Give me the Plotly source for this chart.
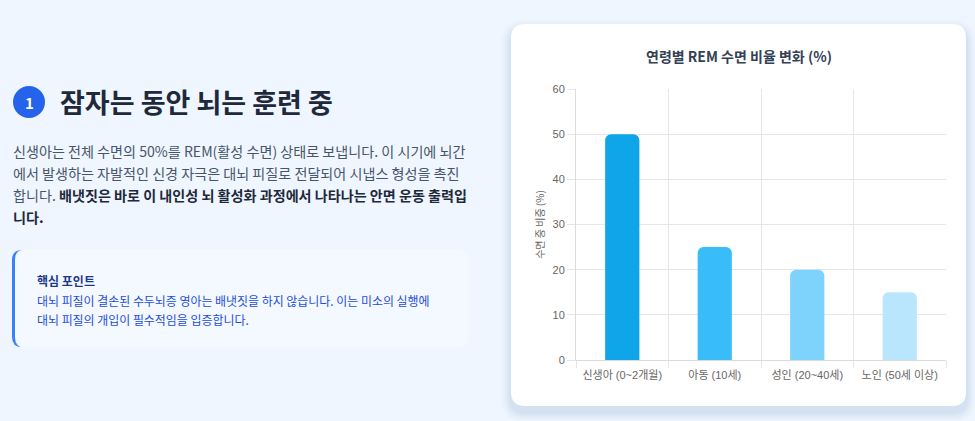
import plotly.graph_objects as go

# chart data
categories = ["신생아 (0~2개월)", "아동 (10세)", "성인 (20~40세)", "노인 (50세 이상)"]
rem_share = [50, 25, 20, 15]
y_ticks = [0, 10, 20, 30, 40, 50, 60]

# page text
heading = "잠자는 동안 뇌는 훈련 중"
para_lines = [
    "신생아는 전체 수면의 50%를 REM(활성 수면) 상태로 보냅니다. 이 시기에 뇌간",
    "에서 발생하는 자발적인 신경 자극은 대뇌 피질로 전달되어 시냅스 형성을 촉진",
    "합니다. <b><span style='color:#1e293b'>배냇짓은 바로 이 내인성 뇌 활성화 과정에서 나타나는 안면 운동 출력입</span></b>",
    "<b><span style='color:#1e293b'>니다.</span></b>",
]
point_title = "핵심 포인트"
point_lines = [
    "대뇌 피질이 결손된 수두뇌증 영아는 배냇짓을 하지 않습니다. 이는 미소의 실행에",
    "대뇌 피질의 개입이 필수적임을 입증합니다.",
]

W, H = 975, 421
KR = "Noto Sans CJK KR"


def px(x):
    return x / W


def py(y):
    return 1 - y / H


def rrect(x0, y0, x1, y1, r):
    # rounded rectangle path in paper coords from pixel box
    pts = [
        f"M{px(x0 + r)},{py(y0)}",
        f"L{px(x1 - r)},{py(y0)}",
        f"Q{px(x1)},{py(y0)} {px(x1)},{py(y0 + r)}",
        f"L{px(x1)},{py(y1 - r)}",
        f"Q{px(x1)},{py(y1)} {px(x1 - r)},{py(y1)}",
        f"L{px(x0 + r)},{py(y1)}",
        f"Q{px(x0)},{py(y1)} {px(x0)},{py(y1 - r)}",
        f"L{px(x0)},{py(y0 + r)}",
        f"Q{px(x0)},{py(y0)} {px(x0 + r)},{py(y0)}",
        "Z",
    ]
    return " ".join(pts)


fig = go.Figure()
fig.add_trace(go.Bar(
    x=categories,
    y=rem_share,
    marker=dict(color=["#0ea5e9", "#38bdf8", "#7dd3fc", "#bae6fd"], cornerradius=6, line=dict(width=0)),
    hoverinfo="x+y",
))

shapes = []
# card shadow
for i, a in enumerate([0.02, 0.02, 0.025, 0.03, 0.035]):
    g = 10 - i * 2
    shapes.append(dict(type="path", xref="paper", yref="paper", layer="below",
                       path=rrect(511 - g, 24 - g + 6, 966 + g, 406 + g + 6, 14 + g),
                       fillcolor=f"rgba(40,80,140,{a})", line=dict(width=0)))
# card
shapes.append(dict(type="path", xref="paper", yref="paper", layer="below",
                   path=rrect(511, 24, 966, 406, 14), fillcolor="white", line=dict(width=0)))
# callout box with left border
shapes.append(dict(type="path", xref="paper", yref="paper", layer="below",
                   path=rrect(12, 250, 468, 347, 10), fillcolor="#3b82f6", line=dict(width=0)))
shapes.append(dict(type="path", xref="paper", yref="paper", layer="below",
                   path=rrect(15, 249.4, 468.6, 347.6, 10), fillcolor="#f4f8ff", line=dict(width=0)))
# step number circle
shapes.append(dict(type="circle", xref="paper", yref="paper", layer="below",
                   x0=px(13), x1=px(45), y0=py(118), y1=py(86),
                   fillcolor="#2563eb", line=dict(width=0)))

annotations = [
    dict(text="<b>1</b>", x=px(29), y=py(102), xanchor="center",
         font=dict(size=15, color="white", family=KR)),
    dict(text=f"<b>{heading}</b>", x=px(58), y=py(101), xanchor="left",
         font=dict(size=27, color="#1e293b", family=KR)),
    dict(text=f"<b>{point_title}</b>", x=px(35), y=py(280), xanchor="left",
         font=dict(size=12, color="#1e3a8a", family=KR)),
    dict(text="<b>연령별 REM 수면 비율 변화 (%)</b>", x=px(739), y=py(56), xanchor="center",
         font=dict(size=14, color="#334155", family=KR)),
]
for i, line in enumerate(para_lines):
    annotations.append(dict(text=line, x=px(11), y=py(151 + i * 22), xanchor="left",
                            font=dict(size=14.1, color="#475569", family=KR)))
for i, line in enumerate(point_lines):
    annotations.append(dict(text=line, x=px(35), y=py(300 + i * 19.5), xanchor="left",
                            font=dict(size=11.95, color="#1d4ed8", family=KR)))
for a in annotations:
    a.setdefault("xref", "paper")
    a.setdefault("yref", "paper")
    a.setdefault("showarrow", False)
    a.setdefault("yanchor", "middle")

grid = "#e6e6e6"
fig.update_layout(
    width=W, height=H,
    margin=dict(l=0, r=0, t=0, b=0),
    paper_bgcolor="#eff6ff",
    plot_bgcolor="rgba(0,0,0,0)",
    showlegend=False,
    bargap=0.63,
    shapes=shapes,
    annotations=annotations,
    font=dict(family="Liberation Sans, " + KR, color="#666666"),
    xaxis=dict(
        domain=[px(576), px(946)],
        tickson="boundaries", ticks="outside", ticklen=7, tickcolor=grid,
        ticklabelstandoff=5,
        showgrid=True, gridcolor=grid, gridwidth=1,
        showline=True, linecolor="#dcdcdc", linewidth=1,
        tickfont=dict(size=11, color="#666666", family="Liberation Sans, " + KR),
        automargin=False, fixedrange=True,
    ),
    yaxis=dict(
        domain=[py(360), py(89)],
        range=[0, 60], tickvals=y_ticks,
        ticks="outside", ticklen=8, tickcolor=grid,
        showgrid=True, gridcolor=grid, gridwidth=1, zeroline=False,
        showline=True, linecolor="#dcdcdc", linewidth=1,
        tickfont=dict(size=11, color="#666666"),
        title=dict(text="수면 중 비중 (%)", standoff=6,
                   font=dict(size=10, color="#666666", family=KR)),
        automargin=False, fixedrange=True,
    ),
)

fig.write_html("out.html", config={"displayModeBar": False},
               post_script="document.documentElement.style.margin='0';"
                           "document.body.style.margin='0';"
                           "document.body.style.overflow='hidden';"
                           "document.documentElement.style.overflow='hidden';")
